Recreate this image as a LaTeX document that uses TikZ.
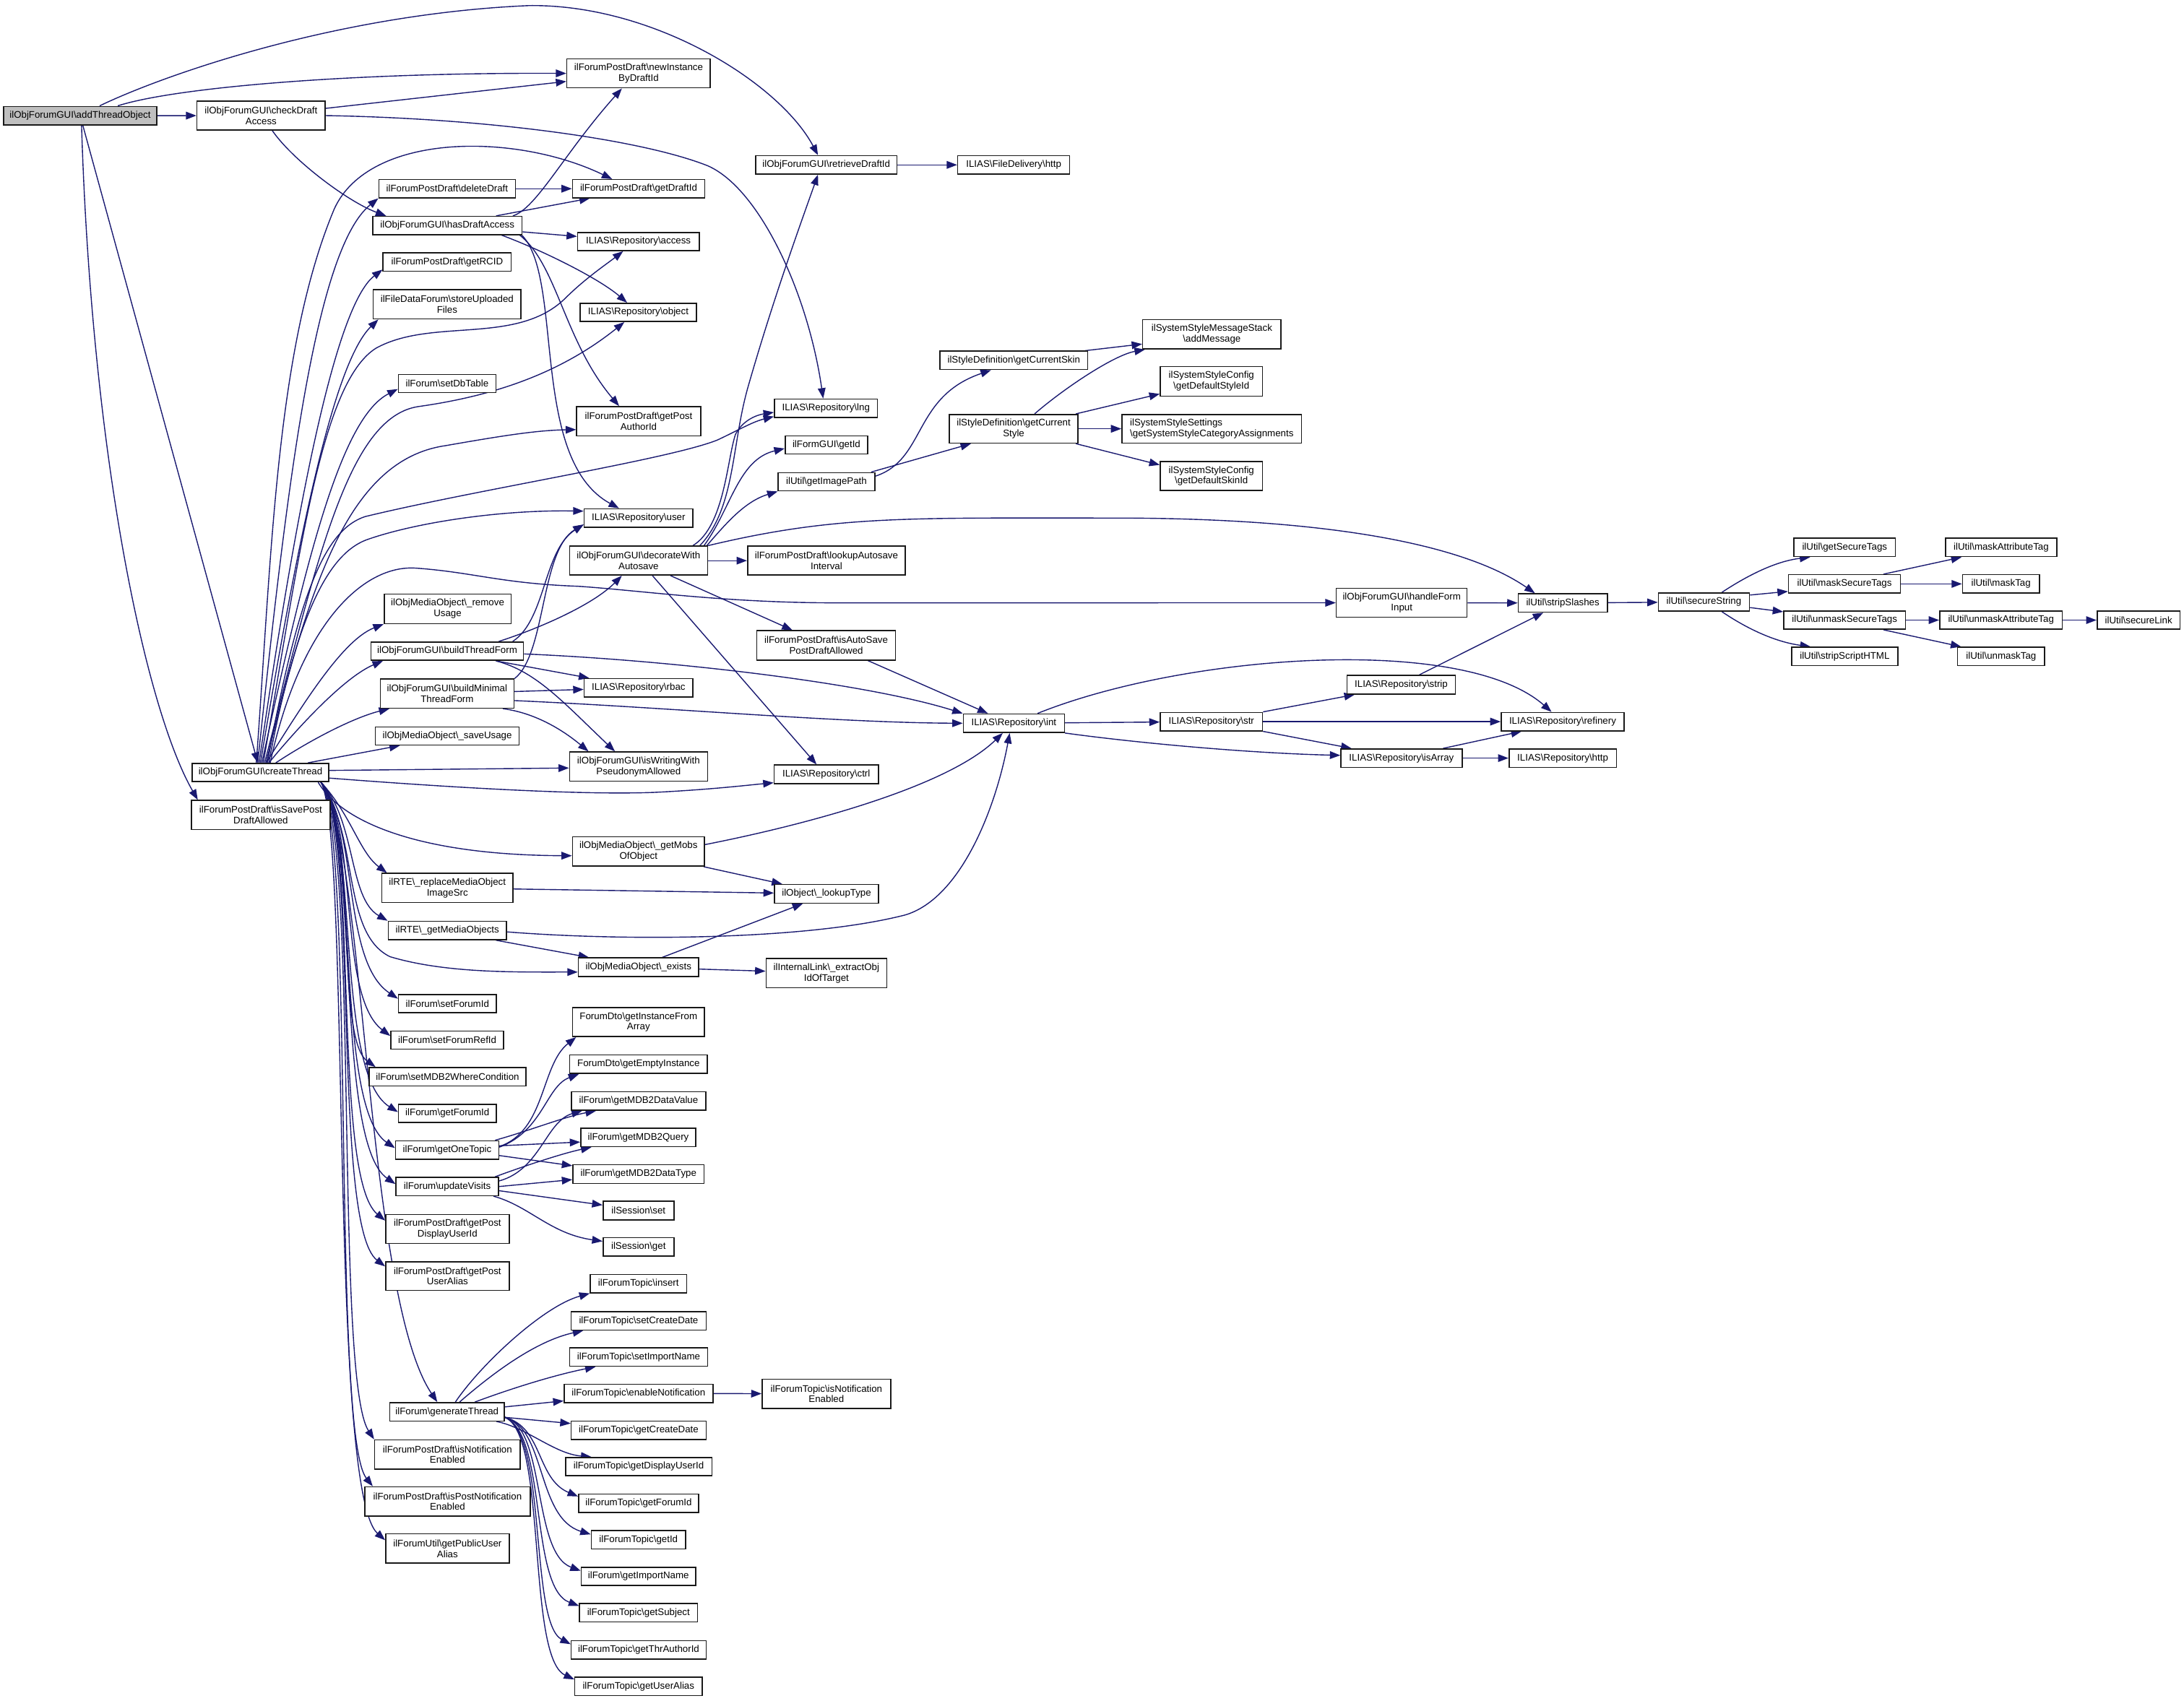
\documentclass[tikz,border=0pt]{standalone}
\usepackage{fontspec}
\setmainfont{Liberation Sans}
\usetikzlibrary{arrows.meta}
\definecolor{edgeblue}{HTML}{191970}
\definecolor{rootgray}{HTML}{BFBFBF}
\pgfdeclarelayer{back}
\pgfdeclarelayer{edges}
\pgfsetlayers{back,edges,main}
\newcommand{\bsl}{\textbackslash{}}
\newcommand{\mkbox}[7][]{\node[box,#1,minimum width={#5-#3},minimum height={#6-#4}] (#2) at ({(#3+#5)/2},{(#4+#6)/2}) {#7};}
\tikzset{
  box/.style={draw=black!90, fill=white, line width=0.8pt, inner sep=0.5pt, align=center,
    font=\fontsize{6.9}{7.7}\selectfont},
  edge/.style={draw=edgeblue, line width=0.72pt, -{Triangle[length=7.5pt,width=5.5pt]}}
}
\begin{document}
\begin{tikzpicture}[x=1pt,y=-1pt]
\begin{pgfonlayer}{back}
\fill[white] (0,0) rectangle (1568,1221);
\end{pgfonlayer}
\useasboundingbox (0,0) rectangle (1568,1221);

% ---------------- nodes ----------------
\mkbox[fill=rootgray]{a}{2.6}{76.4}{112.5}{89.7}{ilObjForumGUI\bsl addThreadObject}
\mkbox{cda}{141.4}{72.7}{233.5}{93.3}{ilObjForumGUI\bsl checkDraft\\Access}
\mkbox{nib}{407}{42.3}{510}{63.1}{ilForumPostDraft\bsl newInstance\\ByDraftId}
\mkbox{rdi}{542.5}{111.8}{644}{125}{ilObjForumGUI\bsl retrieveDraftId}
\mkbox{fdh}{687.6}{111.8}{768}{125}{ILIAS\bsl FileDelivery\bsl http}
\mkbox{dd}{272}{129}{370}{142}{ilForumPostDraft\bsl deleteDraft}
\mkbox{gdi}{411}{129}{506}{142}{ilForumPostDraft\bsl getDraftId}
\mkbox{hda}{267.6}{155.4}{374.8}{168.5}{ilObjForumGUI\bsl hasDraftAccess}
\mkbox{acc}{414.7}{167}{502}{180}{ILIAS\bsl Repository\bsl access}
\mkbox{rcid}{275}{181.5}{367}{194.7}{ilForumPostDraft\bsl getRCID}
\mkbox{suf}{268}{208}{374}{229}{ilFileDataForum\bsl storeUploaded\\Files}
\mkbox{obj}{416.5}{217.8}{500}{230.9}{ILIAS\bsl Repository\bsl object}
\mkbox{sdt}{286}{269}{356}{282}{ilForum\bsl setDbTable}
\mkbox{gpa}{414}{292}{503}{313}{ilForumPostDraft\bsl getPost\\AuthorId}
\mkbox{lng}{556}{286.6}{630}{299.7}{ILIAS\bsl Repository\bsl lng}
\mkbox{fgid}{563.7}{313}{623}{326.1}{ilFormGUI\bsl getId}
\mkbox{gip}{558.7}{339.4}{628}{352.5}{ilUtil\bsl getImagePath}
\mkbox{gcs}{674.9}{252.2}{780.8}{265.4}{ilStyleDefinition\bsl getCurrentSkin}
\mkbox{gcst}{681.5}{297.6}{774}{318.2}{ilStyleDefinition\bsl getCurrent\\Style}
\mkbox{am}{820.4}{229.5}{919.7}{250.6}{ilSystemStyleMessageStack\\\bsl addMessage}
\mkbox{gdsi}{833}{263.3}{906.4}{284.4}{ilSystemStyleConfig\\\bsl getDefaultStyleId}
\mkbox[align=left]{gssca}{805.5}{297.6}{934.5}{318.2}{ilSystemStyleSettings\\\bsl getSystemStyleCategoryAssignments}
\mkbox{gdski}{833}{331.4}{906.4}{352.3}{ilSystemStyleConfig\\\bsl getDefaultSkinId}
\mkbox{usr}{419.4}{365.4}{497.5}{378.7}{ILIAS\bsl Repository\bsl user}
\mkbox{dw}{408.9}{392.2}{508}{413}{ilObjForumGUI\bsl decorateWith\\Autosave}
\mkbox{lai}{536.7}{392.2}{650}{413}{ilForumPostDraft\bsl lookupAutosave\\Interval}
\mkbox{rmu}{275.8}{426.5}{366.9}{447.8}{ilObjMediaObject\bsl\_remove\\Usage}
\mkbox{hfi}{959.4}{422.4}{1053.3}{443.3}{ilObjForumGUI\bsl handleForm\\Input}
\mkbox{ss}{1090}{426.4}{1154}{439.6}{ilUtil\bsl stripSlashes}
\mkbox{sstr}{1190.6}{425.7}{1256}{438.9}{ilUtil\bsl secureString}
\mkbox{gst}{1288}{386.5}{1360.7}{399.7}{ilUtil\bsl getSecureTags}
\mkbox{mst}{1284}{412.7}{1364.5}{425.9}{ilUtil\bsl maskSecureTags}
\mkbox{ust}{1280.6}{438.7}{1368}{451.9}{ilUtil\bsl unmaskSecureTags}
\mkbox{ssh}{1286.3}{464.8}{1362.5}{478}{ilUtil\bsl stripScriptHTML}
\mkbox{mat}{1396.7}{386.5}{1476.8}{399.7}{ilUtil\bsl maskAttributeTag}
\mkbox{mt}{1409}{412.7}{1464.2}{425.9}{ilUtil\bsl maskTag}
\mkbox{uat}{1392.6}{438.7}{1480.6}{451.9}{ilUtil\bsl unmaskAttributeTag}
\mkbox{ut}{1405.4}{464.8}{1468}{478}{ilUtil\bsl unmaskTag}
\mkbox{sl}{1505.6}{438.7}{1565.2}{451.9}{ilUtil\bsl secureLink}
\mkbox{iasp}{543.3}{452.9}{643}{474}{ilForumPostDraft\bsl isAutoSave\\PostDraftAllowed}
\mkbox{btf}{266.3}{461}{375.9}{474.2}{ilObjForumGUI\bsl buildThreadForm}
\mkbox{bmt}{273}{487.7}{369}{508.5}{ilObjForumGUI\bsl buildMinimal\\ThreadForm}
\mkbox{rbac}{419.4}{487.3}{497.5}{500.4}{ILIAS\bsl Repository\bsl rbac}
\mkbox{int}{691.6}{512.7}{764.2}{526}{ILIAS\bsl Repository\bsl int}
\mkbox{str}{833}{511.6}{906.4}{524.8}{ILIAS\bsl Repository\bsl str}
\mkbox{strip}{967}{485}{1045}{498.4}{ILIAS\bsl Repository\bsl strip}
\mkbox{ref}{1077.8}{511.6}{1166}{524.8}{ILIAS\bsl Repository\bsl refinery}
\mkbox{isa}{962.7}{537.8}{1049.7}{551}{ILIAS\bsl Repository\bsl isArray}
\mkbox{rh}{1083.4}{537.8}{1160.5}{551}{ILIAS\bsl Repository\bsl http}
\mkbox{su}{269.5}{522}{372.7}{535}{ilObjMediaObject\bsl\_saveUsage}
\mkbox{ct}{138}{548.2}{236}{561.3}{ilObjForumGUI\bsl createThread}
\mkbox{iww}{408.9}{540}{508}{561}{ilObjForumGUI\bsl isWritingWith\\PseudonymAllowed}
\mkbox{ctrl}{555.8}{549.4}{630.7}{562.7}{ILIAS\bsl Repository\bsl ctrl}
\mkbox{isp}{137.4}{574.8}{237}{595.7}{ilForumPostDraft\bsl isSavePost\\DraftAllowed}
\mkbox{gmo}{411}{601}{505.8}{622}{ilObjMediaObject\bsl\_getMobs\\OfObject}
\mkbox{rmi}{274.2}{627.2}{368.2}{648.1}{ilRTE\bsl\_replaceMediaObject\\ImageSrc}
\mkbox{lt}{556}{635.2}{630.8}{648.5}{ilObject\bsl\_lookupType}
\mkbox{gmob}{278.7}{661.6}{363.7}{674.8}{ilRTE\bsl\_getMediaObjects}
\mkbox{ex}{415.2}{687.9}{501.6}{701.2}{ilObjMediaObject\bsl\_exists}
\mkbox{eot}{550}{688.3}{636.6}{709.2}{ilInternalLink\bsl\_extractObj\\IdOfTarget}
\mkbox{sfi}{286.1}{714.1}{356.3}{727.2}{ilForum\bsl setForumId}
\mkbox{sfr}{280.6}{740.3}{361.6}{753.5}{ilForum\bsl setForumRefId}
\mkbox{smw}{265}{766.6}{377.7}{779.9}{ilForum\bsl setMDB2WhereCondition}
\mkbox{gfi}{286.1}{793}{356.3}{806.1}{ilForum\bsl getForumId}
\mkbox{got}{284}{819.2}{358.1}{832.4}{ilForum\bsl getOneTopic}
\mkbox{uv}{284.3}{845.5}{357.9}{858.6}{ilForum\bsl updateVisits}
\mkbox{gpd}{276.9}{872.1}{365.6}{892.8}{ilForumPostDraft\bsl getPost\\DisplayUserId}
\mkbox{gpu}{276.9}{906.1}{365.6}{926.7}{ilForumPostDraft\bsl getPost\\UserAlias}
\mkbox{gifa}{411}{723.6}{505.8}{744.4}{ForumDto\bsl getInstanceFrom\\Array}
\mkbox{gei}{409}{757.5}{507.9}{770.9}{ForumDto\bsl getEmptyInstance}
\mkbox{gdv}{410.3}{784}{506.7}{797.3}{ilForum\bsl getMDB2DataValue}
\mkbox{gq}{417}{810.2}{499.5}{823.4}{ilForum\bsl getMDB2Query}
\mkbox{gdt}{411.3}{836.4}{505.5}{849.8}{ilForum\bsl getMDB2DataType}
\mkbox{sset}{433}{862.7}{483.8}{876}{ilSession\bsl set}
\mkbox{sget}{433}{888.7}{483.8}{902}{ilSession\bsl get}
\mkbox{tins}{423.8}{915.2}{493}{928.4}{ilForumTopic\bsl insert}
\mkbox{tscd}{410.1}{941.9}{506.9}{955.1}{ilForumTopic\bsl setCreateDate}
\mkbox{tsin}{409}{967.8}{508}{981.1}{ilForumTopic\bsl setImportName}
\mkbox{ten}{405}{994}{511.8}{1007.2}{ilForumTopic\bsl enableNotification}
\mkbox{tine}{547.2}{990.4}{639.4}{1011.4}{ilForumTopic\bsl isNotification\\Enabled}
\mkbox{gt}{279.8}{1007.2}{362.1}{1020.4}{ilForum\bsl generateThread}
\mkbox{tgcd}{410.1}{1020.6}{506.9}{1033.8}{ilForumTopic\bsl getCreateDate}
\mkbox{tgdu}{406}{1046.6}{511.1}{1059.8}{ilForumTopic\bsl getDisplayUserId}
\mkbox{pne}{269}{1034}{373.5}{1055}{ilForumPostDraft\bsl isNotification\\Enabled}
\mkbox{ppne}{262}{1067.7}{380.6}{1088.7}{ilForumPostDraft\bsl isPostNotification\\Enabled}
\mkbox{tgfi}{415.4}{1073}{501.6}{1086.2}{ilForumTopic\bsl getForumId}
\mkbox{gpua}{276.9}{1101.5}{365.6}{1122.5}{ilForumUtil\bsl getPublicUser\\Alias}
\mkbox{tgid}{424.5}{1099.2}{492.3}{1112.4}{ilForumTopic\bsl getId}
\mkbox{fgin}{417.3}{1125.4}{499.5}{1138.6}{ilForum\bsl getImportName}
\mkbox{tgs}{416.1}{1151.6}{500.7}{1164.8}{ilForumTopic\bsl getSubject}
\mkbox{tgta}{410.1}{1178.1}{506.9}{1191.3}{ilForumTopic\bsl getThrAuthorId}
\mkbox{tgua}{412.7}{1204.4}{504.1}{1217.6}{ilForumTopic\bsl getUserAlias}

% ---------------- edges ----------------
\begin{pgfonlayer}{edges}
% addThreadObject
\draw[edge] (a) -- (cda);
\draw[edge] ([xshift=27pt]a.north) .. controls (125,63) and (250,52) .. (nib.west);
\draw[edge] ([xshift=14pt]a.north) .. controls (115,55) and (240,10) .. (380,4) .. controls (470,3) and (560,60) .. ([xshift=-6pt]rdi.north);
\draw[edge] (a) -- (ct);
\draw[edge] ([xshift=1pt]a.south) .. controls (66,330) and (105,510) .. ([xshift=5pt]isp.north west);
% checkDraftAccess
\draw[edge] (cda) -- (nib);
\draw[edge] (cda.east) .. controls (350,85) and (460,100) .. (508,119) .. controls (545,135) and (580,210) .. ([xshift=-2pt]lng.north);
\draw[edge] ([xshift=8pt]cda.south) .. controls (210,115) and (250,145) .. ([xshift=10pt]hda.north west);
% hasDraftAccess
\draw[edge] ([xshift=47pt]hda.north) .. controls (385,150) and (405,110) .. ([xshift=-12pt]nib.south);
\draw[edge] ([xshift=35pt]hda.north) -- ([xshift=-35pt]gdi.south);
\draw[edge] (hda) -- (acc);
\draw[edge] ([xshift=39pt]hda.south) .. controls (390,180) and (430,200) .. ([xshift=-8pt]obj.north);
\draw[edge] ([xshift=52pt]hda.south) .. controls (400,190) and (405,245) .. ([xshift=-14pt]gpa.north);
\draw[edge] ([xshift=53.5pt]hda.south) .. controls (405,200) and (380,330) .. ([xshift=-14pt]usr.north);
\draw[edge] (dd) -- (gdi);
% createThread, upward fan
\draw[edge] ([xshift=-3pt]ct.north) .. controls (195,400) and (198,250) .. (240,150) .. controls (265,95) and (370,95) .. ([xshift=-19pt]gdi.north);
\draw[edge] ([xshift=-2pt]ct.north) .. controls (205,360) and (225,180) .. (dd.south west);
\draw[edge] ([xshift=-1pt]ct.north) .. controls (212,370) and (240,220) .. ([yshift=1.5pt]rcid.south west);
\draw[edge] (ct.north) .. controls (215,380) and (240,260) .. ([xshift=4pt]suf.south west);
\draw[edge] ([xshift=1pt]ct.north) .. controls (220,400) and (245,300) .. ([yshift=3pt]sdt.south west);
\draw[edge] ([xshift=2pt]ct.north) .. controls (215,400) and (230,275) .. (270,250) .. controls (310,228) and (370,248) .. (405,215) .. controls (420,200) and (435,190) .. ([xshift=-11pt]acc.south);
\draw[edge] ([xshift=3pt]ct.north) .. controls (228,400) and (250,300) .. (300,292) .. controls (350,285) and (400,270) .. ([xshift=-10pt]obj.south);
\draw[edge] ([xshift=4pt]ct.north) .. controls (222,420) and (250,330) .. (320,320) .. controls (360,313) and (385,309) .. ([yshift=-6pt]gpa.west);
\draw[edge] ([xshift=5pt]ct.north) .. controls (215,420) and (235,380) .. (262,371) .. controls (340,352) and (480,330) .. (515,316) .. controls (530,309) and (540,303) .. ([yshift=1pt]lng.south west);
\draw[edge] ([xshift=6pt]ct.north) .. controls (215,430) and (240,395) .. (265,387) .. controls (300,375) and (360,366) .. ([yshift=5pt]usr.west);
\draw[edge] ([xshift=7pt]ct.north) .. controls (215,450) and (260,405) .. (299,408) .. controls (340,411) and (360,419) .. (415,421) .. controls (460,424) and (520,432.9) .. (600,432.9) -- (hfi.west);
\draw[edge] ([xshift=4pt]ct.north) .. controls (215,510) and (245,460) .. (rmu.south west);
\draw[edge] ([xshift=6pt]ct.north) .. controls (220,515) and (250,485) .. ([xshift=9pt]btf.south west);
\draw[edge] ([xshift=11pt]ct.north) .. controls (225,530) and (255,515) .. ([xshift=7pt]bmt.south west);
\draw[edge] ([xshift=34pt]ct.north) -- ([xshift=18pt]su.south west);
% createThread, right
\draw[edge] ([yshift=1.5pt]ct.east) -- ([yshift=-1pt]iww.west);
\draw[edge] ([yshift=-4pt]ct.east) .. controls (330,566) and (420,571) .. (470,569) .. controls (510,567) and (535,564) .. ([yshift=1pt]ctrl.south west);
\draw[edge] ([xshift=-8pt]ct.south east) .. controls (245,590) and (300,614) .. ([yshift=-3pt]gmo.west);
% createThread, downward fan
\draw[edge] ([xshift=-6pt]ct.south east) .. controls (252,585) and (258,612) .. ([xshift=4pt]rmi.north west);
\draw[edge] ([xshift=-6pt]ct.south east) .. controls (256,590) and (250,645) .. (gmob.north west);
\draw[edge] ([xshift=-6pt]ct.south east) .. controls (258,600) and (245,670) .. (280,687) .. controls (320,699) and (370,698) .. ([yshift=-3.5pt]ex.west);
\draw[edge] ([xshift=-6pt]ct.south east) .. controls (258,595) and (245,690) .. ([yshift=3.5pt]sfi.west);
\draw[edge] ([xshift=-6pt]ct.south east) .. controls (258,595) and (242,715) .. ([yshift=3pt]sfr.west);
\draw[edge] ([xshift=-6pt]ct.south east) .. controls (258,595) and (240,745) .. ([xshift=5pt]smw.north west);
\draw[edge] ([xshift=-6pt]ct.south east) .. controls (258,595) and (240,770) .. ([yshift=1pt]gfi.west);
\draw[edge] ([xshift=-6pt]ct.south east) .. controls (258,595) and (240,795) .. ([yshift=1.4pt]got.west);
\draw[edge] ([xshift=-6pt]ct.south east) .. controls (258,595) and (240,820) .. ([yshift=1.8pt]uv.west);
\draw[edge] ([xshift=-6pt]ct.south east) .. controls (258,595) and (238,845) .. ([yshift=6pt]gpd.west);
\draw[edge] ([xshift=-6pt]ct.south east) .. controls (258,595) and (238,880) .. ([yshift=7pt]gpu.west);
\draw[edge] ([xshift=-6pt]ct.south east) .. controls (262,600) and (262,930) .. ([xshift=-7pt]gt.north);
\draw[edge] ([xshift=-6pt]ct.south east) .. controls (258,600) and (240,990) .. (pne.north west);
\draw[edge] ([xshift=-6pt]ct.south east) .. controls (255,600) and (238,1030) .. ([xshift=6pt]ppne.north west);
\draw[edge] ([xshift=-6pt]ct.south east) .. controls (252,600) and (236,1070) .. ([yshift=6pt]gpua.west);
% getOneTopic
\draw[edge] ([yshift=2.5pt]got.east) .. controls (392,812) and (388,765) .. ([xshift=3pt]gifa.south west);
\draw[edge] ([yshift=2pt]got.east) .. controls (390,812) and (392,780) .. ([xshift=7pt]gei.south west);
\draw[edge] ([xshift=-3pt]got.north east) .. controls (380,812) and (405,802) .. ([xshift=18pt]gdv.south west);
\draw[edge] ([yshift=3pt]got.east) -- ([yshift=-3.3pt]gq.west);
\draw[edge] ([yshift=-4pt]got.east) -- ([yshift=6pt]gdt.west);
% updateVisits
\draw[edge] ([xshift=-3pt]uv.north east) .. controls (380,836) and (405,828) .. ([xshift=8pt]gq.south west);
\draw[edge] ([yshift=4pt]uv.east) .. controls (388,840) and (392,805) .. ([xshift=8pt]gdv.south west);
\draw[edge] (uv.east) -- ([yshift=-4pt]gdt.west);
\draw[edge] ([yshift=-3pt]uv.east) -- ([yshift=4pt]sset.west);
\draw[edge] ([xshift=-4pt]uv.south east) .. controls (380,866) and (395,886) .. ([yshift=4pt]sget.west);
% generateThread
\draw[edge] ([xshift=6pt]gt.north) .. controls (345,980) and (390,938) .. (tins.south west);
\draw[edge] ([xshift=9pt]gt.north) .. controls (355,985) and (385,963) .. ([xshift=9pt]tscd.south west);
\draw[edge] ([xshift=20pt]gt.north) .. controls (370,996) and (400,987) .. ([xshift=19pt]tsin.south west);
\draw[edge] ([yshift=3.5pt]gt.east) -- ([yshift=-5.4pt]ten.west);
\draw[edge] ([yshift=-4pt]gt.east) -- ([yshift=5pt]tgcd.west);
\draw[edge] ([xshift=-6pt]gt.south east) .. controls (378,1025) and (398,1044) .. ([xshift=19pt]tgdu.north west);
\draw[edge] ([yshift=-4pt]gt.east) .. controls (390,1025) and (385,1062) .. ([yshift=5pt]tgfi.west);
\draw[edge] ([yshift=-4pt]gt.east) .. controls (392,1025) and (385,1090) .. ([yshift=4pt]tgid.west);
\draw[edge] ([yshift=-4pt]gt.east) .. controls (392,1025) and (382,1115) .. ([yshift=4pt]fgin.west);
\draw[edge] ([yshift=-4pt]gt.east) .. controls (393,1030) and (380,1140) .. ([yshift=5pt]tgs.west);
\draw[edge] ([yshift=-4pt]gt.east) .. controls (393,1030) and (380,1165) .. ([yshift=4pt]tgta.west);
\draw[edge] ([yshift=-4pt]gt.east) .. controls (393,1030) and (378,1190) .. ([yshift=5pt]tgua.west);
\draw[edge] (ten) -- (tine);
% media objects
\draw[edge] (rmi) -- (lt);
\draw[edge] ([xshift=-1pt]gmo.south east) -- ([xshift=6pt]lt.north west);
\draw[edge] ([xshift=17pt]ex.north) -- ([xshift=-17pt]lt.south);
\draw[edge] (ex) -- (eot);
\draw[edge] ([xshift=-8pt]gmob.south east) -- ([xshift=8pt]ex.north west);
\draw[edge] ([yshift=-1pt]gmob.east) .. controls (450,676) and (580,675) .. (650,657) .. controls (690,645) and (715,580) .. ([xshift=-3pt]int.south);
\draw[edge] ([yshift=5pt]gmo.east) .. controls (580,592) and (680,565) .. ([xshift=-8pt]int.south);
% Repository int / str
\draw[edge] (int) -- (str);
\draw[edge] ([xshift=17pt]int.north) .. controls (850,470) and (1050,455) .. ([xshift=-8pt]ref.north);
\draw[edge] (int.south east) .. controls (820,534) and (900,541) .. ([yshift=2pt]isa.west);
\draw[edge] (str.north east) -- ([xshift=6pt]strip.south west);
\draw[edge] (str) -- (ref);
\draw[edge] (str.south east) -- ([xshift=8pt]isa.north west);
\draw[edge] ([xshift=13pt]strip.north) -- ([xshift=-14pt]ss.south);
\draw[edge] ([xshift=-14pt]isa.north east) -- ([xshift=15pt]ref.south west);
\draw[edge] (isa) -- (rh);
% strings
\draw[edge] (hfi) -- (ss);
\draw[edge] (ss) -- (sstr);
\draw[edge] ([xshift=13pt]sstr.north) .. controls (1255,413) and (1275,403) .. ([xshift=12pt]gst.south west);
\draw[edge] ([yshift=-2pt]sstr.north east) -- ([yshift=-5.4pt]mst.west);
\draw[edge] ([yshift=-4pt]sstr.east) -- ([yshift=6pt]ust.west);
\draw[edge] ([xshift=13pt]sstr.south) .. controls (1255,452) and (1275,461) .. ([xshift=14pt]ssh.north west);
\draw[edge] ([xshift=28pt]mst.north) -- ([xshift=12pt]mat.south west);
\draw[edge] (mst) -- (mt);
\draw[edge] (ust) -- (uat);
\draw[edge] ([xshift=28pt]ust.south) -- ([xshift=3pt]ut.north west);
\draw[edge] (uat) -- (sl);
% styles
\draw[edge] ([xshift=-2pt]gcs.north east) -- ([yshift=-7pt]am.west);
\draw[edge] ([xshift=15pt]gcst.north) .. controls (765,278) and (800,255) .. ([xshift=2pt]am.south west);
\draw[edge] ([xshift=-2pt]gcst.north east) -- ([yshift=-9pt]gdsi.west);
\draw[edge] (gcst) -- (gssca);
\draw[edge] ([xshift=-2pt]gcst.south east) -- ([yshift=8pt]gdski.west);
\draw[edge] ([xshift=-3pt]gip.north east) -- ([xshift=16pt]gcst.south west);
\draw[edge] ([yshift=4pt]gip.east) .. controls (665,330) and (655,285) .. ([xshift=37pt]gcs.south west);
\draw[edge] (rdi) -- (fdh);
% decorateWithAutosave
\draw[edge] ([xshift=44pt]dw.north) .. controls (528,365) and (525,320) .. (537,278) .. controls (555,215) and (575,160) .. ([xshift=-6pt]rdi.south);
\draw[edge] ([xshift=39pt]dw.north) .. controls (520,378) and (522,330) .. (528,312) .. controls (533,302) and (543,298) .. ([yshift=4pt]lng.south west);
\draw[edge] ([xshift=47pt]dw.north) .. controls (525,365) and (530,330) .. ([yshift=-2.5pt]fgid.west);
\draw[edge] ([xshift=49pt]dw.north) .. controls (522,375) and (535,360) .. (gip.south west);
\draw[edge] (dw.north east) .. controls (600,370) and (650,372) .. (800,372) .. controls (950,372) and (1050,390) .. ([xshift=-20pt]ss.north);
\draw[edge] (dw) -- (lai);
\draw[edge] ([xshift=23pt]dw.south) -- ([xshift=26pt]iasp.north west);
\draw[edge] ([xshift=10pt]dw.south) -- ([xshift=-7pt]ctrl.north);
% buildThreadForm / buildMinimalThreadForm
\draw[edge] ([xshift=37pt]btf.north) .. controls (385,452) and (425,435) .. ([xshift=-12pt]dw.south);
\draw[edge] ([xshift=47pt]btf.north) .. controls (392,445) and (390,395) .. ([yshift=-4.6pt]usr.west);
\draw[edge] (bmt.north east) .. controls (392,470) and (388,395) .. ([yshift=-4.6pt]usr.west);
\draw[edge] ([yshift=-2pt]btf.east) .. controls (480,474) and (620,490) .. (int.north west);
\draw[edge] ([xshift=35pt]btf.south) -- ([xshift=4pt]rbac.north west);
\draw[edge] ([xshift=35pt]btf.south) .. controls (385,482) and (405,505) .. ([xshift=33pt]iww.north west);
\draw[edge] (bmt) -- (rbac);
\draw[edge] ([yshift=-5pt]bmt.east) .. controls (480,508) and (600,519) .. (int.west);
\draw[edge] ([xshift=40pt]bmt.south) .. controls (385,512) and (405,525) .. ([xshift=14pt]iww.north west);
\draw[edge] ([xshift=30pt]iasp.south) -- ([xshift=-18.6pt]int.north);
\end{pgfonlayer}
\end{tikzpicture}
\end{document}
